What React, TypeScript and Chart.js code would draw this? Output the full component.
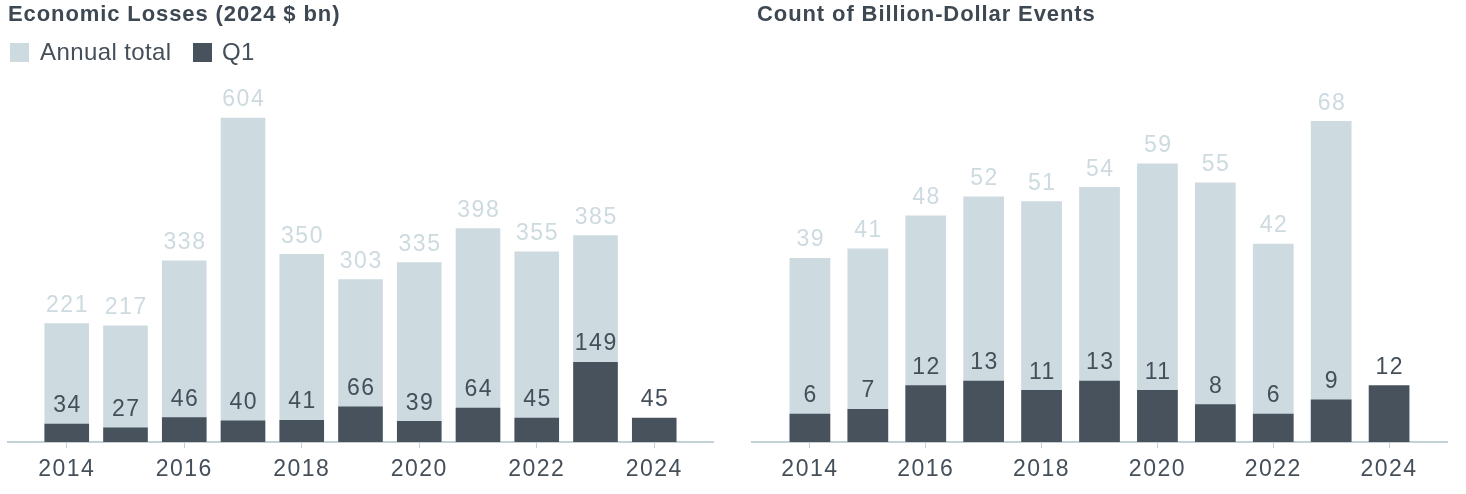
import React, { useEffect, useRef } from 'react';
import { Chart, registerables } from 'chart.js';

Chart.register(...registerables);

// ---- Data ----
const years = ['2013', '2014', '2015', '2016', '2017', '2018', '2019', '2020', '2021', '2022', '2023', '2024', '2025'];
const tickYears = ['2014', '2016', '2018', '2020', '2022', '2024'];
const lossAnnual = [null, 221, 217, 338, 604, 350, 303, 335, 398, 355, 385, null, null];
const lossQ1 = [null, 34, 27, 46, 40, 41, 66, 39, 64, 45, 149, 45, null];
const countAnnual = [null, 39, 41, 48, 52, 51, 54, 59, 55, 42, 68, null, null];
const countQ1 = [null, 6, 7, 12, 13, 11, 13, 11, 8, 6, 9, 12, null];

// ---- Styles ----
const LIGHT = '#cddadf';
const DARK = '#47525d';
const AXIS = '#c3d0d5';
const TEXT = '#454f5a';
const TITLE = '#3e4853';
const FONT = '"Liberation Sans", Arial, Helvetica, sans-serif';

const valueLabels = {
  id: 'valueLabels',
  beforeDraw(chart: any) {
    (chart.ctx as any).letterSpacing = '1.5px';
  },
  afterDatasetsDraw(chart: any) {
    const ctx = chart.ctx;
    ctx.save();
    (ctx as any).letterSpacing = '1.5px';
    ctx.font = `23px ${FONT}`;
    ctx.textAlign = 'center';
    ctx.textBaseline = 'alphabetic';
    chart.data.datasets.forEach((ds: any, i: number) => {
      const meta = chart.getDatasetMeta(i);
      meta.data.forEach((el: any, j: number) => {
        const v = ds.data[j];
        if (v == null) return;
        ctx.fillStyle = ds.labelColor;
        ctx.fillText(String(v), el.x + 0.75, el.y - 11.5);
      });
    });
    ctx.restore();
  },
};

function makeConfig(annual: (number | null)[], q1: (number | null)[], max: number, barPct: number, pad: any) {
  return {
    type: 'bar' as const,
    data: {
      labels: years,
      datasets: [
        {
          label: 'Annual total',
          data: annual,
          backgroundColor: LIGHT,
          order: 1,
          grouped: false,
          barPercentage: barPct,
          categoryPercentage: 1,
          labelColor: LIGHT,
        },
        {
          label: 'Q1',
          data: q1,
          backgroundColor: DARK,
          order: 0,
          grouped: false,
          barPercentage: barPct,
          categoryPercentage: 1,
          labelColor: TEXT,
        },
      ],
    },
    options: {
      animation: false,
      responsive: false,
      devicePixelRatio: 1,
      layout: { padding: pad },
      plugins: { legend: { display: false }, tooltip: { enabled: false }, title: { display: false } },
      scales: {
        x: {
          offset: false,
          grid: {
            offset: false,
            display: true,
            drawOnChartArea: false,
            drawTicks: true,
            tickLength: 6,
            tickWidth: 1,
            tickColor: (c: any) => (tickYears.includes(years[c.index]) ? AXIS : 'rgba(0,0,0,0)'),
          },
          border: { display: true, color: AXIS, width: 2 },
          ticks: {
            autoSkip: false,
            maxRotation: 0,
            minRotation: 0,
            padding: 8,
            color: TEXT,
            font: { family: FONT, size: 23 },
            callback: (_v: any, i: number) => (tickYears.includes(years[i]) ? years[i] : ''),
          },
        },
        y: { display: false, min: 0, max },
      },
    },
    plugins: [valueLabels],
  };
}

function BarPanel({ cfg, left }: { cfg: any; left: number }) {
  const ref = useRef<HTMLCanvasElement | null>(null);
  useEffect(() => {
    if (!ref.current) return;
    const chart = new Chart(ref.current, cfg);
    return () => chart.destroy();
  }, []);
  return (
    <canvas
      ref={ref}
      width={733}
      height={494}
      style={{ position: 'absolute', left, top: 0, width: 733, height: 494, display: 'block' }}
    />
  );
}

export default function App() {
  const leftCfg = makeConfig(lossAnnual, lossQ1, 650, 0.759, { left: 5, right: 20, top: 93, bottom: 2.4 });
  const rightCfg = makeConfig(countAnnual, countQ1, 75, 0.703, { left: 19, right: 19, top: 88, bottom: 2.4 });
  const titleStyle: React.CSSProperties = {
    position: 'absolute',
    top: 3,
    fontFamily: FONT,
    fontWeight: 'bold',
    fontSize: 22,
    lineHeight: '22px',
    letterSpacing: '0.9px',
    color: TITLE,
    whiteSpace: 'nowrap',
  };
  const legText: React.CSSProperties = {
    position: 'absolute',
    top: 39.7,
    fontFamily: FONT,
    fontSize: 24,
    lineHeight: '24px',
    letterSpacing: '0.4px',
    color: TEXT,
    whiteSpace: 'nowrap',
  };
  return (
    <div style={{ position: 'relative', width: 1466, height: 494, overflow: 'hidden', background: '#fff' }}>
      <style>{`body{margin:0}`}</style>
      <BarPanel cfg={leftCfg} left={0} />
      <BarPanel cfg={rightCfg} left={733} />
      <div style={{ ...titleStyle, left: 8 }}>Economic Losses (2024 $ bn)</div>
      <div style={{ ...titleStyle, left: 757 }}>Count of Billion-Dollar Events</div>
      <div style={{ position: 'absolute', left: 10, top: 42.5, width: 19, height: 19, background: LIGHT }} />
      <div style={{ ...legText, left: 40 }}>Annual total</div>
      <div style={{ position: 'absolute', left: 193, top: 42.5, width: 19, height: 19, background: DARK }} />
      <div style={{ ...legText, left: 222 }}>Q1</div>
    </div>
  );
}
